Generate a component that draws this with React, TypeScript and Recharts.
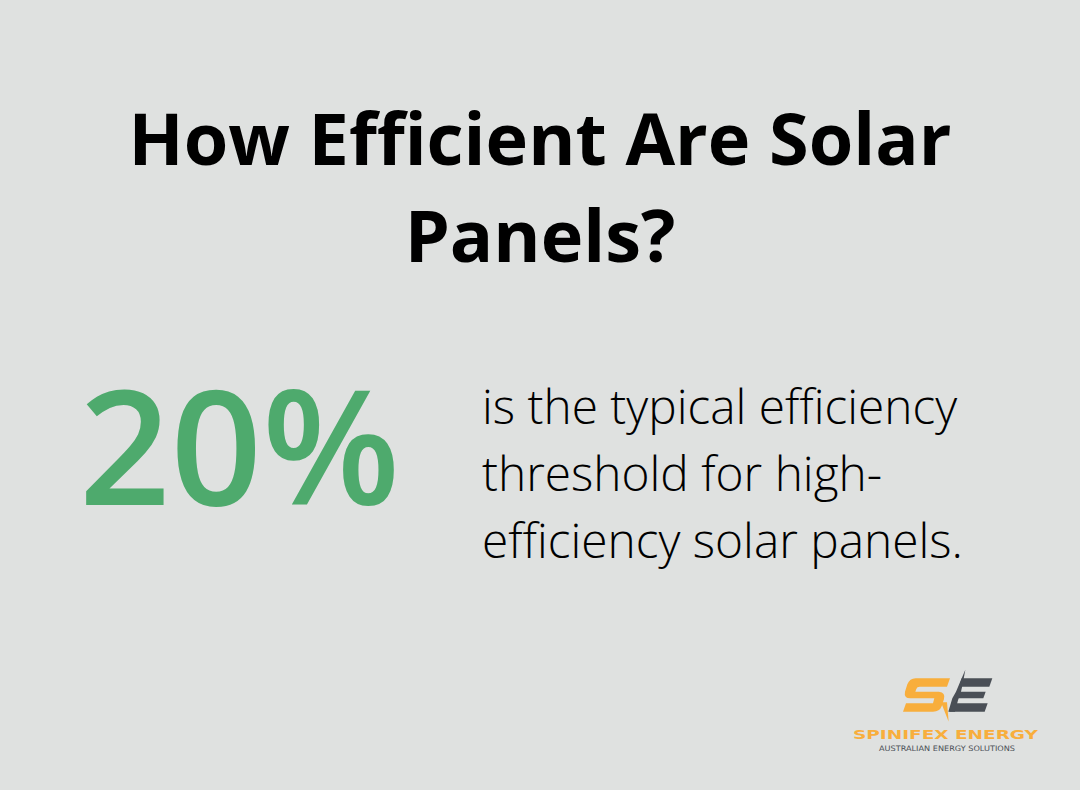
import React from 'react';
import { Surface, Text } from 'recharts';

const titleLines = ['How Efficient Are Solar', 'Panels?'];
const statValues = [20];
const statLabelLines = ['is the typical efficiency', 'threshold for high-', 'efficiency solar panels.'];
const brandName = 'SPINIFEX ENERGY';
const brandTagline = 'AUSTRALIAN ENERGY SOLUTIONS';

const BG = '#dfe1e0';
const GREEN = '#4eaa6d';
const ORANGE = '#f8ae3c';
const SLATE = '#4a4f56';

const Logo: React.FC = () => (
  <g>
    {/* drawn in 3x units, mapped back to page pixels */}
    <g transform="translate(895,665) scale(0.3333)">
      <path
        d="M 62 40 L 165 40 L 156 65 L 74 65 Q 66 65 64 72 L 61 80 L 132 80 Q 152 82 147 102 L 140 124 Q 134 140 114 140 L 24 140 L 33 115 L 114 115 L 118 100 L 46 100 Q 26 99 30 80 L 37 58 Q 44 40 62 40 Z"
        fill={ORANGE}
      />
      <path d="M 138 112 L 156 112 L 161 170 Z" fill={ORANGE} />
      <path d="M 211 14 L 203 58 L 198 80 L 189 106 L 180 140 L 160 140 L 172 100 L 183 80 L 195 52 Z" fill={SLATE} />
      <path d="M 200 40 L 292 40 L 283 65 L 192 65 Z" fill={SLATE} />
      <path d="M 188 80 L 272 80 L 265 100 L 181 100 Z" fill={SLATE} />
      <path d="M 172 115 L 278 115 L 269 140 L 163 140 Z" fill={SLATE} />
    </g>
    <text
      x={853}
      y={739}
      fill={ORANGE}
      fontFamily="DejaVu Sans"
      fontWeight={700}
      fontSize={13}
      textLength={185}
      lengthAdjust="spacingAndGlyphs"
    >
      {brandName}
    </text>
    <text
      x={879}
      y={751}
      fill={SLATE}
      fontFamily="DejaVu Sans"
      fontSize={7.5}
      textLength={136}
      lengthAdjust="spacingAndGlyphs"
    >
      {brandTagline}
    </text>
  </g>
);

const App: React.FC = () => {
  return (
    <div style={{ position: 'absolute', left: 0, top: 0, width: 1080, height: 790, background: BG }}>
      <Surface width={1080} height={790}>
        <rect x={0} y={0} width={1080} height={790} fill={BG} />
        {titleLines.map((line, i) => (
          <Text
            key={`title-${i}`}
            x={540}
            y={165 + i * 97}
            textAnchor="middle"
            verticalAnchor="end"
            fontFamily="Open Sans"
            fontWeight={700}
            fontSize={72}
            fill="#000000"
          >
            {line}
          </Text>
        ))}
        {statValues.map((v, i) => (
          <Text
            key={`stat-${i}`}
            x={79}
            y={505}
            verticalAnchor="end"
            fontFamily="Open Sans"
            fontWeight={600}
            fontSize={160}
            fill={GREEN}
          >
            {`${v}%`}
          </Text>
        ))}
        {statLabelLines.map((line, i) => (
          <Text
            key={`label-${i}`}
            x={482}
            y={424 + i * 67}
            verticalAnchor="end"
            fontFamily="Open Sans"
            fontWeight={300}
            fontSize={47.8}
            fill="#000000"
          >
            {line}
          </Text>
        ))}
        <Logo />
      </Surface>
    </div>
  );
};

export default App;
